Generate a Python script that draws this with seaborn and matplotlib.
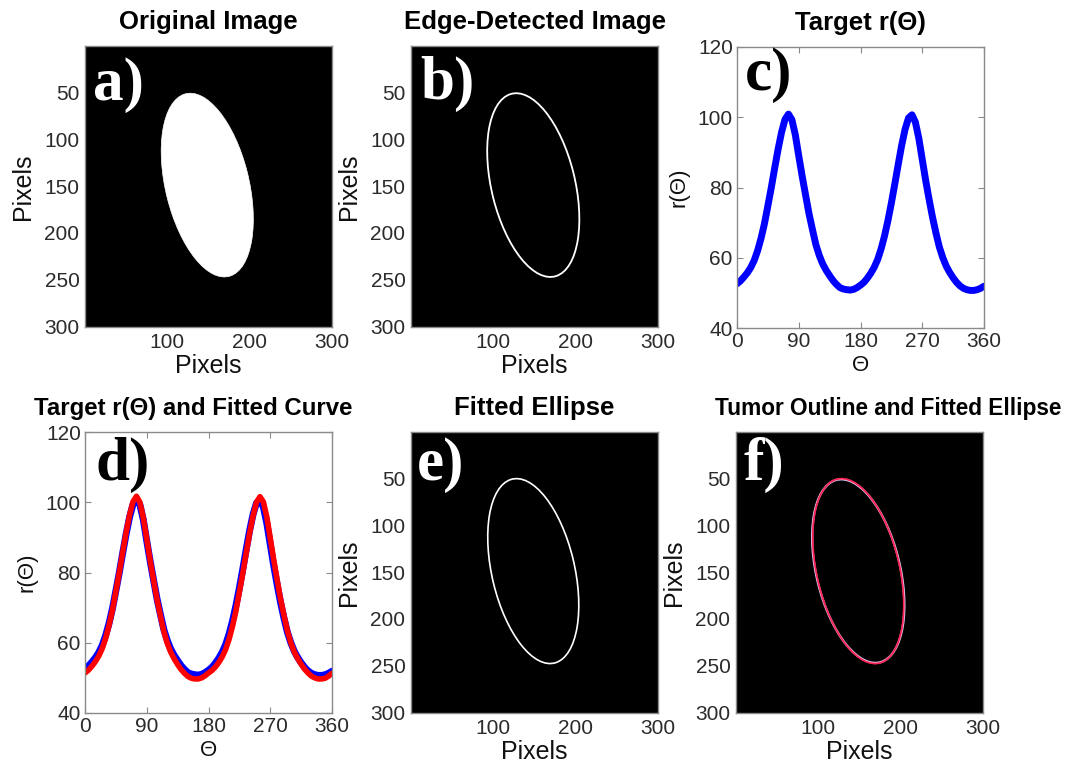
import numpy as np
import pandas as pd
import matplotlib
matplotlib.use("Agg")
import matplotlib.pyplot as plt
from matplotlib.patches import Ellipse
import seaborn as sns

# ---- data -------------------------------------------------------------
theta_deg = list(range(0, 361, 5))

# radial distance of the detected tumour edge from its centre
r_target = [52.6, 53.4, 54.5, 55.7, 57.2, 59.2, 62.0, 65.5, 69.7, 74.8,
            80.0, 85.6, 91.0, 95.8, 99.4, 100.9, 99.3, 95.0, 89.0, 83.2,
            77.8, 72.5, 68.0, 63.7, 60.6, 58.2, 56.4, 54.9, 53.5, 52.4,
            51.5, 51.1, 50.9, 50.8, 51.0, 51.5, 52.2,
            53.0, 54.2, 55.6, 57.3, 59.5, 62.5, 66.2, 70.6, 75.6,
            81.0, 86.6, 92.0, 96.6, 99.8, 100.7, 98.6, 94.0, 88.0, 82.0,
            76.6, 71.5, 67.0, 63.0, 60.0, 57.6, 55.8, 54.3, 53.0, 52.0,
            51.3, 50.9, 50.7, 50.7, 50.9, 51.3, 51.9]

# radial distance of the fitted ellipse
r_fitted = [51.4, 52.2, 53.3, 54.6, 56.2, 58.3, 61.2, 64.9, 69.3, 74.6,
            80.0, 85.8, 91.4, 96.4, 100.2, 101.7, 100.0, 95.6, 89.5, 83.4,
            77.8, 72.3, 67.6, 63.2, 59.8, 57.3, 55.4, 53.8, 52.4, 51.3,
            50.4, 49.9, 49.7, 49.7, 50.0, 50.6, 51.4,
            52.1, 53.1, 54.4, 56.0, 58.1, 61.0, 64.7, 69.1, 74.4,
            79.8, 85.6, 91.2, 96.2, 100.0, 101.6, 100.1, 95.8, 89.8, 83.7,
            78.0, 72.5, 67.8, 63.4, 60.0, 57.4, 55.5, 53.9, 52.5, 51.4,
            50.5, 50.0, 49.7, 49.7, 49.9, 50.5, 51.3]

# ellipse parameters (pixel coordinates, semi-axes, rotation in degrees)
tumor_center = (149.0, 149.0)
tumor_semi_axes = (101.0, 50.5)
tumor_angle = 74.0
fit_center = (149.0, 149.0)
fit_semi_axes = (101.5, 50.0)
fit_angle = 74.5

image_size = 300
pixel_xticks = [100, 200, 300]
pixel_yticks = [50, 100, 150, 200, 250, 300]
theta_ticks = [0, 90, 180, 270, 360]
r_ticks = [40, 60, 80, 100, 120]

titles = ["Original Image", "Edge-Detected Image", "Target r(\u0398)",
          "Target r(\u0398) and Fitted Curve", "Fitted Ellipse",
          "Tumor Outline and Fitted Ellipse"]
tags = ["a)", "b)", "c)", "d)", "e)", "f)"]

df = pd.DataFrame({"theta": theta_deg, "target": r_target, "fitted": r_fitted})

# ---- style ------------------------------------------------------------
sns.set_theme(style="white")
plt.rcParams["font.family"] = ["Liberation Sans", "DejaVu Sans"]

W, H = 1072, 769
fig = plt.figure(figsize=(W / 100, H / 100), dpi=100)
fig.patch.set_facecolor("white")

FRAME = "#8a8a8a"
TICKLBL = "#2b2b2b"


def make_axes(left, top, width=247, height=281):
    return fig.add_axes([left / W, 1 - (top + height) / H, width / W, height / H])


def add_tag(ax, tag, dx, dy, color):
    ax.text(dx / 247, 1 - dy / 281, tag, transform=ax.transAxes,
            ha="left", va="baseline", color=color, fontsize=44,
            fontweight="bold", family=["Liberation Serif", "DejaVu Serif"],
            zorder=10)


def image_panel(ax, title, tag, tag_dx, tag_dy, title_x=0.5, title_size=18.5):
    ax.imshow(np.zeros((image_size, image_size)), cmap="gray", vmin=0, vmax=1,
              extent=(0.5, image_size + 0.5, image_size + 0.5, 0.5),
              aspect="auto", interpolation="nearest")
    ax.set_xlim(0.5, image_size + 0.5)
    ax.set_ylim(image_size + 0.5, 0.5)
    ax.set_xticks(pixel_xticks)
    ax.set_yticks(pixel_yticks)
    ax.tick_params(length=0, labelsize=15, labelcolor=TICKLBL, pad=4)
    ax.set_xlabel("Pixels", fontsize=18, labelpad=2, color="#111111")
    ax.set_ylabel("Pixels", fontsize=18, labelpad=7, color="#111111")
    for s in ax.spines.values():
        s.set_color(FRAME)
        s.set_linewidth(1.0)
    ax.set_title(title, fontsize=title_size, fontweight="bold", pad=12,
                 x=title_x, color="black")
    add_tag(ax, tag, tag_dx, tag_dy, "white")


def curve_panel(ax, title, tag, tag_dx, tag_dy, title_x=0.5, title_size=18.5):
    ax.set_xlim(0, 360)
    ax.set_ylim(40, 120)
    ax.set_xticks(theta_ticks)
    ax.set_yticks(r_ticks)
    ax.tick_params(direction="in", length=4, width=0.8, color=FRAME,
                   top=True, right=True, bottom=True, left=True,
                   labelsize=15, labelcolor=TICKLBL, pad=3)
    ax.set_xlabel("\u0398", fontsize=16, labelpad=3, color="#111111")
    ax.set_ylabel("r(\u0398)", fontsize=16, labelpad=6, color="#111111")
    for s in ax.spines.values():
        s.set_color(FRAME)
        s.set_linewidth(1.0)
        s.set_visible(True)
    ax.set_title(title, fontsize=title_size, fontweight="bold", pad=12,
                 x=title_x, color="black")
    add_tag(ax, tag, tag_dx, tag_dy, "black")


def ellipse(center, semi_axes, angle, **kw):
    return Ellipse(center, width=2 * semi_axes[0], height=2 * semi_axes[1],
                   angle=angle, **kw)


# a) original image
ax_a = make_axes(85, 46)
image_panel(ax_a, titles[0], tags[0], 8, 54)
ax_a.add_patch(ellipse(tumor_center, tumor_semi_axes, tumor_angle,
                       facecolor="white", edgecolor="white", lw=0.5, zorder=3))

# b) edge-detected image
ax_b = make_axes(411, 46)
image_panel(ax_b, titles[1], tags[1], 9, 53)
ax_b.add_patch(ellipse(tumor_center, tumor_semi_axes, tumor_angle,
                       fill=False, edgecolor="white", lw=1.3, zorder=3))

# c) target r(theta)
ax_c = make_axes(737, 47)
sns.lineplot(data=df, x="theta", y="target", color="#0000ff", lw=5,
             ax=ax_c, legend=False)
curve_panel(ax_c, titles[2], tags[2], 8, 43)

# d) target and fitted curve
ax_d = make_axes(85, 432)
sns.lineplot(data=df, x="theta", y="target", color="#0000ff", lw=5,
             ax=ax_d, legend=False)
sns.lineplot(data=df, x="theta", y="fitted", color="#ff0000", lw=4.0,
             ax=ax_d, legend=False)
curve_panel(ax_d, titles[3], tags[3], 10, 48, title_x=0.437, title_size=17.3)

# e) fitted ellipse
ax_e = make_axes(411, 432)
image_panel(ax_e, titles[4], tags[4], 6, 48)
ax_e.add_patch(ellipse(fit_center, fit_semi_axes, fit_angle,
                       fill=False, edgecolor="white", lw=1.2, zorder=3))

# f) outline with fitted ellipse overlaid
ax_f = make_axes(736, 432)
image_panel(ax_f, titles[5], tags[5], 7, 48, title_x=0.615, title_size=16.3)
ax_f.add_patch(ellipse(tumor_center, tumor_semi_axes, tumor_angle,
                       fill=False, edgecolor="#d8d0ff", lw=1.7, zorder=3))
ax_f.add_patch(ellipse(fit_center, fit_semi_axes, fit_angle,
                       fill=False, edgecolor="#ff1040", lw=1.3, alpha=0.9,
                       zorder=4))

fig.savefig("out.png", dpi=100)
